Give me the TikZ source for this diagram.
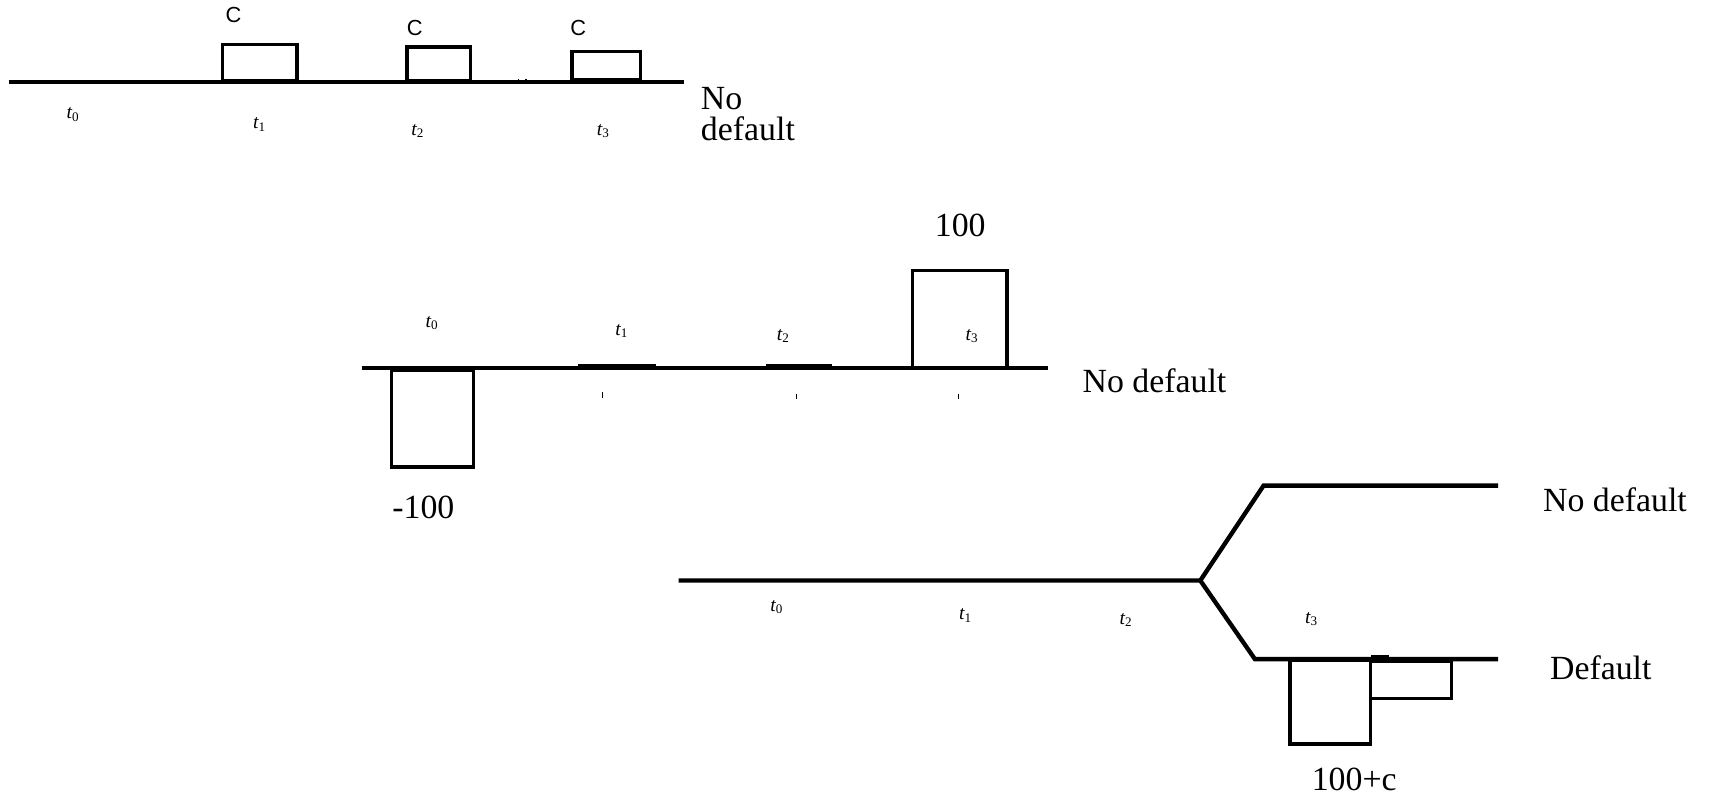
\documentclass[tikz,border=0pt]{standalone}
\usepackage{fontspec}
\setmainfont{Liberation Serif}
\newfontfamily\sanslab{Liberation Sans}
\begin{document}
\begin{tikzpicture}[x=0.5pt,y=-0.5pt,
  axis/.style={line width=2pt},
  box/.style={draw,line width=1.6pt},
  thin tick/.style={line width=0.5pt},
  big/.style={inner sep=0pt,font=\fontsize{15.5}{14}\selectfont},
  tlab/.style={inner sep=0pt,font=\fontsize{9}{10}\selectfont\itshape},
  clab/.style={inner sep=0pt,font=\sanslab\fontsize{10}{12}\selectfont}]
\useasboundingbox (0,0) rectangle (1568,730);
% ---------- top panel ----------
\draw[axis] (8,75) -- (627,75);
\draw[box] (204,41) rectangle (272,74);
\draw[box] (373,43) rectangle (431,74);
\draw[box] (524,47) rectangle (587,73);
\draw[thin tick] (475,72) -- (475,75) (482,72) -- (482,75);
\node[clab] (c1) at (214,14) {C};
\node[clab] (c2) at (380,26) {C};
\node[clab] (c3) at (530,26) {C};
\node[tlab] (a0) at (67,105) {t\textsubscript{\upshape 0}};
\node[tlab] (a1) at (238,114) {t\textsubscript{\upshape 1}};
\node[tlab] (a2) at (383,120) {t\textsubscript{\upshape 2}};
\node[tlab] (a3) at (553,120) {t\textsubscript{\upshape 3}};
\node[big,anchor=north west,align=left] (nd1) at (642,80) {No\\default};
% ---------- middle panel ----------
\draw[axis] (332,337) -- (960,337);
\draw[box] (359,339) rectangle (434,428);
\draw[box] (836,248) rectangle (923,337);
\draw[line width=2.2pt] (530,336) -- (601,336);
\draw[line width=2.2pt] (702,336) -- (762,336);
\draw[thin tick] (552,359) -- (552,365);
\draw[thin tick] (730,361) -- (730,366);
\draw[thin tick] (878,361) -- (878,366);
\node[big] (p100) at (880,207) {100};
\node[big] (m100) at (388,465) {-100};
\node[tlab] (b0) at (396,296) {t\textsubscript{\upshape 0}};
\node[tlab] (b1) at (570,303) {t\textsubscript{\upshape 1}};
\node[tlab] (b2) at (718,308) {t\textsubscript{\upshape 2}};
\node[tlab] (b3) at (891,308) {t\textsubscript{\upshape 3}};
\node[big] (nd2) at (1058,349) {No default};
% ---------- bottom panel ----------
\coordinate (fork) at (1100,532);
\draw[axis] (622,532) -- (fork) -- (1158,445) -- (1373,445);
\draw[axis] (fork) -- (1150,604) -- (1373,604);
\draw[box] (1182,605) rectangle (1256,682);
\draw[box] (1256,606) rectangle (1330,640);
\draw[line width=2.4pt] (1256,603) -- (1273,603);
\node[tlab] (d0) at (712,556) {t\textsubscript{\upshape 0}};
\node[tlab] (d1) at (885,564) {t\textsubscript{\upshape 1}};
\node[tlab] (d2) at (1032,568) {t\textsubscript{\upshape 2}};
\node[tlab] (d3) at (1202,567) {t\textsubscript{\upshape 3}};
\node[big] (nd3) at (1480,458) {No default};
\node[big] (dft) at (1467,612) {Default};
\node[big] (pc) at (1241,714) {100+c};
\end{tikzpicture}
\end{document}
